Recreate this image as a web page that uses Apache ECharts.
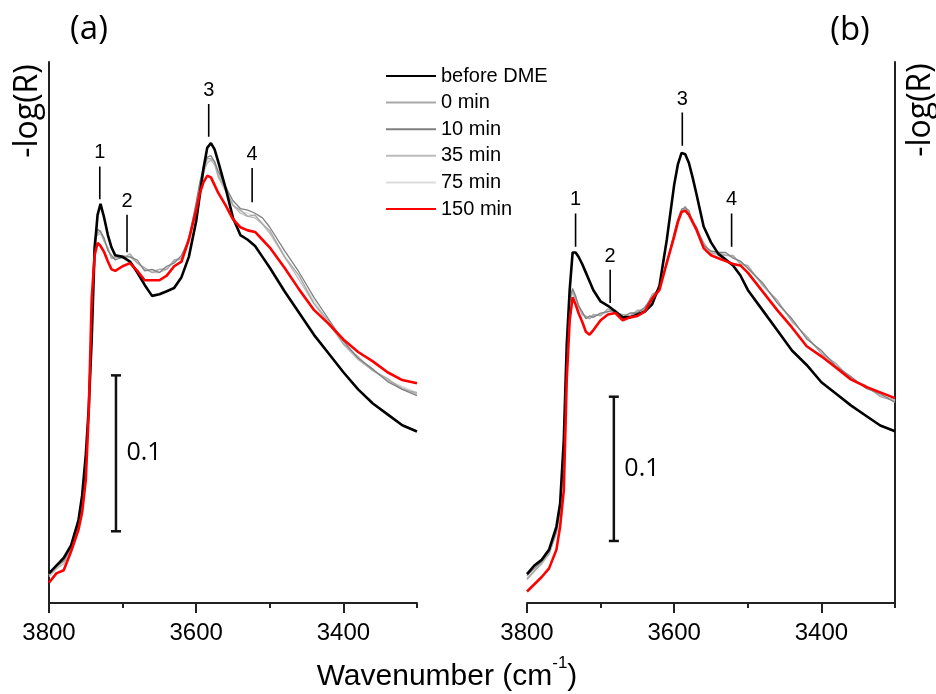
<!DOCTYPE html>
<html>
<head>
<meta charset="utf-8">
<script src="https://cdn.jsdelivr.net/npm/echarts@6.0.0/dist/echarts.min.js"></script>
<style>
  html, body { margin: 0; padding: 0; background: #fff; }
  #chart { width: 936px; height: 694px; }
</style>
</head>
<body>
<div id="chart"></div>
<script>
// wavenumber grid (cm-1), shared by every curve
const wavenumbers = [3800, 3790, 3780, 3770, 3760, 3755, 3750, 3746, 3742, 3738,
  3734, 3730, 3725, 3720, 3715, 3710, 3700, 3690, 3680, 3670,
  3660, 3650, 3640, 3630, 3620, 3610, 3600, 3595, 3590, 3585,
  3580, 3575, 3570, 3560, 3550, 3540, 3530, 3520, 3510, 3500,
  3480, 3460, 3440, 3420, 3400, 3380, 3360, 3340, 3320, 3300]

// panel (a), -log(R) in units of 0.001
const beforeA = [19, 24, 29, 37, 53, 69, 95, 125, 169, 227,
  249, 256, 247, 236, 228, 223, 222, 219, 212, 204,
  197, 198, 200, 202, 209, 222, 245, 262, 279, 292,
  295, 291, 283, 266, 247, 236, 233, 229, 222, 215,
  200, 186, 172, 160, 148, 137, 128, 121, 114, 110]
const min0A = [18, 23, 27, 35, 50, 63, 86, 124, 186, 234,
  237, 239, 232, 228, 221, 222, 221, 224, 218, 215,
  212, 214, 214, 220, 221, 235, 255, 269, 277, 285,
  285, 283, 274, 266, 255, 252, 248, 249, 243, 239,
  222, 210, 192, 181, 166, 158, 149, 144, 137, 135]
const min10A = [19, 24, 27, 36, 51, 64, 86, 125, 184, 232,
  240, 238, 234, 226, 223, 220, 222, 222, 220, 213,
  214, 212, 216, 218, 223, 233, 257, 270, 280, 286,
  287, 283, 277, 267, 258, 253, 252, 250, 247, 241,
  226, 212, 196, 182, 168, 157, 150, 142, 137, 133]
const min35A = [17, 22, 25, 34, 50, 62, 84, 123, 186, 234,
  236, 237, 232, 227, 221, 221, 223, 222, 218, 214,
  212, 212, 214, 219, 221, 233, 254, 266, 276, 282,
  284, 281, 273, 264, 255, 250, 248, 247, 243, 237,
  222, 207, 192, 179, 166, 156, 149, 143, 138, 134]
const min75A = [18, 23, 26, 35, 51, 63, 85, 124, 185, 233,
  239, 238, 233, 227, 222, 222, 221, 223, 219, 214,
  213, 214, 215, 219, 222, 234, 256, 267, 278, 283,
  285, 282, 275, 265, 256, 251, 250, 248, 244, 238,
  223, 209, 194, 180, 167, 157, 150, 143, 139, 135]
const min150A = [13, 19, 21, 33, 47, 58, 79, 122, 195, 223,
  231, 229, 225, 219, 214, 213, 216, 218, 213, 207,
  207, 207, 210, 216, 219, 233, 252, 263, 270, 274,
  273, 268, 263, 255, 246, 241, 239, 238, 233, 228,
  215, 201, 188, 179, 169, 161, 155, 148, 143, 141]

// panel (b)
const beforeB = [20, 26, 30, 37, 53, 69, 113, 179, 217, 243,
  243, 240, 235, 229, 223, 217, 209, 206, 202, 198,
  198, 200, 202, 207, 220, 252, 290, 304, 312, 311,
  305, 295, 284, 261, 250, 242, 238, 234, 227, 217,
  203, 189, 175, 165, 153, 145, 137, 130, 123, 119]
const min0B = [17, 22, 28, 34, 49, 65, 102, 171, 210, 217,
  211, 207, 200, 199, 197, 200, 199, 204, 201, 200,
  199, 203, 203, 214, 217, 237, 255, 266, 271, 275,
  270, 266, 259, 250, 242, 243, 241, 241, 235, 234,
  220, 210, 195, 185, 173, 166, 155, 151, 143, 140]
const min10B = [19, 24, 29, 36, 50, 66, 105, 174, 211, 218,
  213, 206, 202, 197, 199, 198, 201, 202, 203, 198,
  201, 201, 205, 212, 219, 235, 257, 266, 273, 274,
  272, 264, 261, 248, 244, 243, 243, 239, 237, 232,
  222, 208, 197, 183, 175, 164, 157, 149, 145, 139]
const min35B = [16, 22, 27, 34, 48, 63, 101, 170, 209, 215,
  211, 205, 200, 198, 197, 199, 200, 202, 202, 199,
  199, 202, 204, 212, 218, 236, 255, 264, 271, 273,
  270, 265, 259, 248, 243, 241, 241, 240, 236, 232,
  221, 208, 196, 184, 173, 164, 156, 150, 144, 141]
const min75B = [17, 23, 28, 35, 49, 64, 103, 172, 210, 216,
  212, 206, 201, 198, 198, 199, 200, 203, 202, 199,
  200, 202, 204, 213, 218, 236, 256, 265, 272, 274,
  271, 265, 260, 249, 243, 242, 242, 240, 236, 233,
  221, 209, 196, 184, 174, 165, 156, 150, 144, 140]
const min150B = [8, 13, 18, 24, 37, 53, 78, 155, 196, 212,
  207, 201, 195, 188, 186, 189, 196, 200, 201, 196,
  198, 199, 202, 211, 217, 236, 254, 264, 271, 272,
  269, 264, 259, 246, 241, 239, 237, 235, 234, 229,
  216, 203, 191, 178, 171, 163, 155, 150, 146, 142]

const seriesNames = ['before DME', '0 min', '10 min', '35 min', '75 min', '150 min']
const xTickLabels = [3800, 3600, 3400]

// peak markers 1-4
const peakNames = ['1', '2', '3', '4']
const peakWnA = [3731, 3694, 3583, 3524]
const peakLoA = [259, 225, 299, 257]
const peakHiA = [280, 249, 320, 279]
const peakWnB = [3734, 3687, 3589, 3522]
const peakLoB = [247, 208, 317, 247]
const peakHiB = [270, 231, 340, 270]

// 0.1 scale bars
const scaleText = '0.1'
const scaleWnA = 3709
const scaleRangeA = [46, 146]
const scaleWnB = 3682
const scaleRangeB = [43, 143]

const yMaxA = 347
const yMaxB = 375

const colors = ['#000000', '#a8a8a8', '#808080', '#bcbcbc', '#dcdcdc', '#ff0000']
const widths = [2.6, 1.3, 1.3, 1.3, 1.3, 2.6]
const drawOrder = [4, 3, 1, 2, 0, 5]

const chart = echarts.init(document.getElementById('chart'))

function pairs (ys) {
    return wavenumbers.map((w, i) => [w, ys[i]])
}

const axisColor = '#222'
const clear = 'rgba(0,0,0,0)'

function xAxes (grid) {
    return [{
        type: 'value', gridIndex: grid, position: 'bottom',
        min: 3300, max: 3800, interval: 100, inverse: true,
        axisLine: { show: true, onZero: false, lineStyle: { color: axisColor, width: 2 } },
        axisTick: { show: true, length: 5, lineStyle: { color: axisColor, width: 2 } },
        axisLabel: {
            customValues: xTickLabels, color: '#000', fontSize: 24, fontFamily: 'Liberation Sans', margin: 18,
            formatter: v => String(v)
        },
        splitLine: { show: false }
    }, {
        type: 'value', gridIndex: grid, position: 'bottom',
        min: 3300, max: 3800, inverse: true,
        axisLine: { show: false, onZero: false },
        axisTick: { show: true, length: 10, customValues: xTickLabels, lineStyle: { color: axisColor, width: 2 } },
        axisLabel: { show: false },
        splitLine: { show: false }
    }]
}

function yAxis (grid, max, pos) {
    return {
        type: 'value', gridIndex: grid, position: pos, min: 0, max: max,
        axisLine: { show: true, onZero: false, lineStyle: { color: axisColor, width: 2 } },
        axisTick: { show: false },
        axisLabel: { show: false },
        splitLine: { show: false }
    }
}

const panels = [
    { curves: [beforeA, min0A, min10A, min35A, min75A, min150A], wn: peakWnA, lo: peakLoA, hi: peakHiA, sWn: scaleWnA, sRange: scaleRangeA },
    { curves: [beforeB, min0B, min10B, min35B, min75B, min150B], wn: peakWnB, lo: peakLoB, hi: peakHiB, sWn: scaleWnB, sRange: scaleRangeB }
]

const series = []
panels.forEach((p, k) => {
    drawOrder.forEach(i => {
        series.push({
            name: seriesNames[i],
            type: 'line',
            xAxisIndex: k * 2,
            yAxisIndex: k,
            data: pairs(p.curves[i]),
            symbol: 'none',
            color: colors[i],
            lineStyle: { color: colors[i], width: widths[i] },
            silent: true
        })
    })
    p.wn.forEach((w, j) => {
        series.push({
            type: 'line',
            xAxisIndex: k * 2,
            yAxisIndex: k,
            symbol: 'circle',
            symbolSize: 1,
            itemStyle: { color: clear },
            lineStyle: { color: '#000', width: 1.6 },
            data: [
                { value: [w, p.lo[j]] },
                { value: [w, p.hi[j]], label: { show: true, position: 'top', distance: 3, formatter: peakNames[j], color: '#000', fontSize: 20, fontFamily: 'Liberation Sans' } }
            ],
            silent: true,
            z: 5
        })
    })
    const mid = (p.sRange[0] + p.sRange[1]) / 2
    series.push({
        type: 'line',
        xAxisIndex: k * 2,
        yAxisIndex: k,
        symbol: 'rect',
        symbolSize: [10, 2.5],
        itemStyle: { color: '#111' },
        lineStyle: { color: '#111', width: 2.5 },
        data: [
            { value: [p.sWn, p.sRange[0]] },
            {
                value: [p.sWn, mid], symbol: 'circle', symbolSize: 1, itemStyle: { color: clear },
                label: { show: true, position: 'right', distance: 10, formatter: scaleText, color: '#000', fontSize: 25, fontFamily: 'Open Sans' }
            },
            { value: [p.sWn, p.sRange[1]] }
        ],
        silent: true,
        z: 5
    })
})

chart.setOption({
    animation: false,
    backgroundColor: '#fff',
    grid: [
        { left: 49, top: 62, width: 368, height: 541 },
        { left: 527, top: 62, width: 368, height: 541 }
    ],
    xAxis: [...xAxes(0), ...xAxes(1)],
    yAxis: [yAxis(0, yMaxA, 'left'), yAxis(1, yMaxB, 'right')],
    legend: {
        data: seriesNames,
        orient: 'vertical',
        left: 385,
        top: 66,
        padding: 0,
        itemWidth: 50,
        itemHeight: 20,
        itemGap: 6.6,
        itemStyle: { opacity: 0 },
        selectedMode: false,
        textStyle: { color: '#000', fontSize: 20, lineHeight: 20, fontFamily: 'Liberation Sans' }
    },
    graphic: [
        { type: 'text', x: 89, y: 30, style: { text: '(a)', font: '33px "Open Sans"', fill: '#000', textAlign: 'center', textVerticalAlign: 'middle' } },
        { type: 'text', x: 850, y: 31, style: { text: '(b)', font: '33px "Open Sans"', fill: '#000', textAlign: 'center', textVerticalAlign: 'middle' } },
        { type: 'text', x: 28, y: 111, rotation: Math.PI / 2, style: { text: '-log(R)', font: '32px "Open Sans"', fill: '#000', textAlign: 'center', textVerticalAlign: 'middle' } },
        { type: 'text', x: 921, y: 110, rotation: Math.PI / 2, style: { text: '-log(R)', font: '32px "Open Sans"', fill: '#000', textAlign: 'center', textVerticalAlign: 'middle' } },
        {
            type: 'text', x: 447, y: 677,
            style: {
                text: 'Wavenumber (cm{sup|-1})',
                font: '30px "Liberation Sans"',
                lineHeight: 44,
                fill: '#000',
                textAlign: 'center',
                textVerticalAlign: 'middle',
                rich: { sup: { fontSize: 17, fontFamily: 'Liberation Sans', lineHeight: 17, verticalAlign: 'top', fill: '#000' } }
            }
        }
    ],
    series: series
})
</script>
</body>
</html>
